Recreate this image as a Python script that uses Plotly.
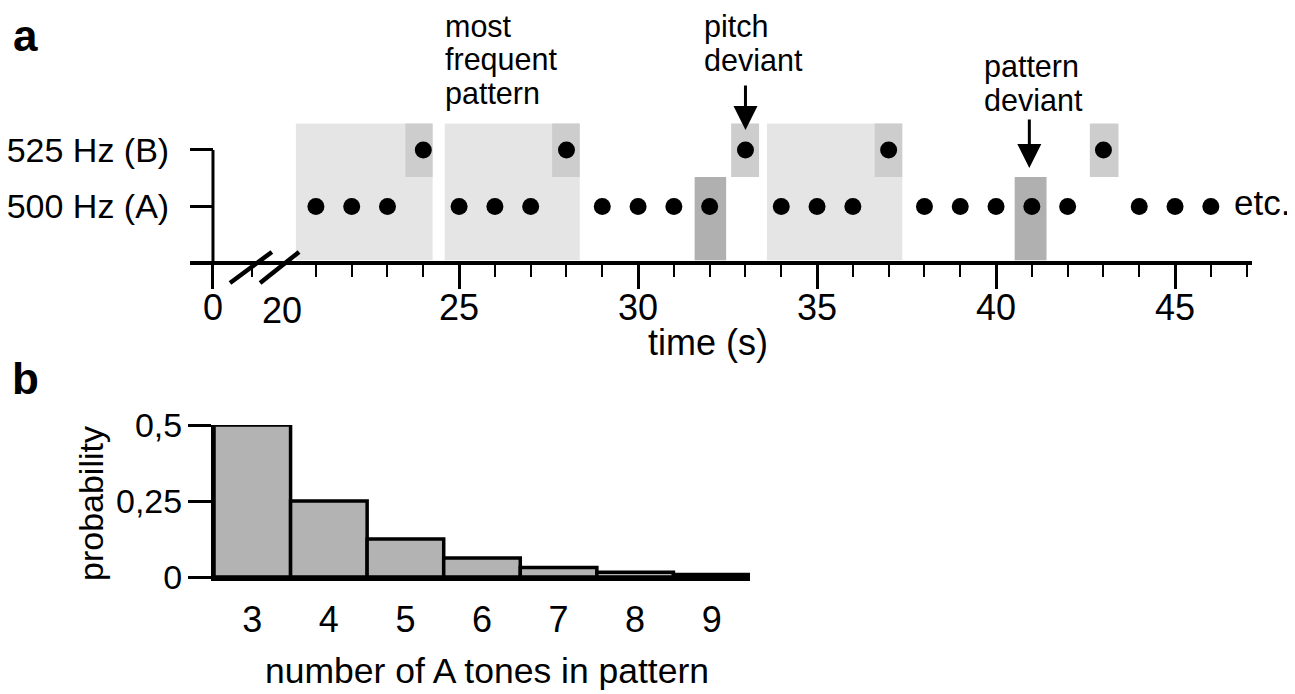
import plotly.graph_objects as go

# ---------------- data: panel a ----------------
a_tone_times = [21, 22, 23, 25, 26, 27, 29, 30, 31, 32, 34, 35, 36, 38, 39, 40, 41, 42, 44, 45, 46]
b_tone_times = [24, 28, 33, 37, 43]
A_LEVEL, B_LEVEL = 1, 2
freq_tick_vals = [1, 2]
freq_tick_text = ["500 Hz (A)", "525 Hz (B)"]

# shaded intervals (seconds)
pattern_start = [20.44, 24.6, 33.6]
pattern_end = [24.26, 28.37, 37.38]
pattern_b_start = [23.5, 27.6, 36.61]
pattern_b_end = [24.26, 28.37, 37.38]
b_dev_start = [32.6, 42.62]
b_dev_end = [33.38, 43.42]
a_dev_start = [31.58, 40.52]
a_dev_end = [32.46, 41.41]

zero_pos = 18.125          # where "0" sits on the broken axis
time_major_vals = [zero_pos, 25, 30, 35, 40, 45]
time_major_text = ["0", "25", "30", "35", "40", "45"]
time_minor_vals = [19.22, 21, 22, 23, 24, 26, 27, 28, 29, 31, 32, 33, 34,
                   36, 37, 38, 39, 41, 42, 43, 44, 46, 47]

# ---------------- data: panel b ----------------
n_a_tones = [3, 4, 5, 6, 7, 8, 9]
probability = [0.5, 0.25, 0.125, 0.0625, 0.03125, 0.015625, 0.0078125]
prob_tick_vals = [0, 0.25, 0.5]
prob_tick_text = ["0", "0,25", "0,5"]

W, H = 1295, 694
OFF = 8  # page body margin
FONT = "Arial, Liberation Sans, sans-serif"
px = lambda v: (v - OFF) / W
py = lambda v: 1 - (v - OFF) / H

LIGHT = "#e5e5e5"
MED = "#cdcdcd"
DARK = "#b0b0b0"

fig = go.Figure()

# y-axis line for panel a (from 0 up to B level)
fig.add_trace(go.Scatter(x=[zero_pos, zero_pos], y=[0, B_LEVEL], mode="lines",
                         line=dict(color="black", width=3), hoverinfo="skip",
                         cliponaxis=False))
fig.add_trace(go.Scatter(x=a_tone_times, y=[A_LEVEL] * len(a_tone_times), mode="markers",
                         marker=dict(color="black", size=17), cliponaxis=False))
fig.add_trace(go.Scatter(x=b_tone_times, y=[B_LEVEL] * len(b_tone_times), mode="markers",
                         marker=dict(color="black", size=17), cliponaxis=False))

fig.add_trace(go.Bar(x=n_a_tones, y=probability, width=1,
                     marker=dict(color="#b3b3b3", line=dict(color="black", width=3.5)),
                     xaxis="x2", yaxis="y2", cliponaxis=False))

shapes = []
RECT_TOP, RECT_MID, RECT_BOT = 2.47, 1.52, 0.05
for s, e in zip(pattern_start, pattern_end):
    shapes.append(dict(type="rect", xref="x", yref="y", x0=s, x1=e, y0=RECT_BOT, y1=RECT_TOP,
                       fillcolor=LIGHT, line=dict(width=0), layer="below"))
for s, e in zip(pattern_b_start, pattern_b_end):
    shapes.append(dict(type="rect", xref="x", yref="y", x0=s, x1=e, y0=RECT_MID, y1=RECT_TOP,
                       fillcolor=MED, line=dict(width=0), layer="below"))
for s, e in zip(b_dev_start, b_dev_end):
    shapes.append(dict(type="rect", xref="x", yref="y", x0=s, x1=e, y0=RECT_MID, y1=RECT_TOP,
                       fillcolor=MED, line=dict(width=0), layer="below"))
for s, e in zip(a_dev_start, a_dev_end):
    shapes.append(dict(type="rect", xref="x", yref="y", x0=s, x1=e, y0=RECT_BOT, y1=RECT_MID,
                       fillcolor=DARK, line=dict(width=0), layer="below"))
# axis-break slashes
for (x0, y0, x1, y1) in [(18.6, -0.354, 19.77, 0.195), (19.44, -0.354, 20.53, 0.195)]:
    shapes.append(dict(type="line", xref="x", yref="y", x0=x0, y0=y0, x1=x1, y1=y1,
                       line=dict(color="black", width=4.5), layer="above"))

ann = []
def txt(t, x, y, size=30.5, **kw):
    d = dict(text=t, xref="paper", yref="paper", x=px(x), y=py(y), showarrow=False,
             xanchor="left", yanchor="middle", font=dict(family=FONT, size=size, color="black"))
    d.update(kw)
    ann.append(d)

txt("<b>a</b>", 11, 35, size=44)
txt("<b>b</b>", 10, 378, size=44)
txt("most", 443, 26)
txt("frequent", 443, 60)
txt("pattern", 443, 94)
txt("pitch", 702, 26)
txt("deviant", 702, 60)
txt("pattern", 982, 66)
txt("deviant", 982, 100)
txt("etc.", 1232, 203, size=35)
txt("time (s)", 708, 342, size=36, xanchor="center")
txt("20", 282, 310, size=36, xanchor="center")
txt("number of A tones in pattern", 487, 671, size=35.5, xanchor="center")
ann.append(dict(text="probability", xref="paper", yref="paper", x=px(91), y=py(504),
                showarrow=False, textangle=-90, xanchor="center", yanchor="middle",
                font=dict(family=FONT, size=34, color="black")))
# arrows
for (xt, yt, ay) in [(33.0, 2.354, -46), (40.93, 1.681, -50)]:
    ann.append(dict(text="", xref="x", yref="y", x=xt, y=yt, ax=0, ay=ay,
                    showarrow=True, arrowhead=2, arrowsize=1.6, arrowwidth=3,
                    arrowcolor="black", standoff=0))

fig.update_layout(
    width=W, height=H, margin=dict(l=0, r=0, t=0, b=0, autoexpand=False),
    paper_bgcolor="white", plot_bgcolor="white", showlegend=False,
    font=dict(family=FONT, size=34, color="black"),
    shapes=shapes, annotations=ann,
    xaxis=dict(domain=[px(190), px(1252)], range=[17.483, 47.15], anchor="free",
               position=py(263), showline=True, linewidth=3.5, linecolor="black",
               ticks="outside", tickvals=time_major_vals, ticktext=time_major_text,
               ticklen=24, tickwidth=2.5, tickcolor="black",
               minor=dict(ticks="outside", tickvals=time_minor_vals, ticklen=12,
                          tickwidth=2, tickcolor="black"),
               showgrid=False, zeroline=False, ticklabelstandoff=-12, automargin=False,
               tickfont=dict(size=36), fixedrange=True),
    yaxis=dict(domain=[py(300), py(95)], range=[-0.655, 2.973], anchor="free",
               position=px(213), showline=False, ticks="outside",
               tickvals=freq_tick_vals, ticktext=freq_tick_text, ticklen=23,
               tickwidth=2.5, tickcolor="black", showgrid=False, zeroline=False,
               ticklabelstandoff=14, automargin=False, tickfont=dict(size=34),
               fixedrange=True),
    xaxis2=dict(domain=[px(214), px(750)], range=[2.5, 9.5], anchor="y2",
                showline=True, linewidth=3.5, linecolor="black", ticks="",
                tickvals=n_a_tones, showgrid=False, zeroline=False,
                ticklabelstandoff=8, automargin=False, tickfont=dict(size=36),
                fixedrange=True),
    yaxis2=dict(domain=[py(577), py(425)], range=[0, 0.5], anchor="x2",
                showline=True, linewidth=3, linecolor="black", ticks="outside",
                tickvals=prob_tick_vals, ticktext=prob_tick_text, ticklen=23,
                tickwidth=2.5, tickcolor="black", showgrid=False, zeroline=False,
                ticklabelstandoff=-1, automargin=False, tickfont=dict(size=34),
                fixedrange=True),
)

fig.write_html("out.html")
